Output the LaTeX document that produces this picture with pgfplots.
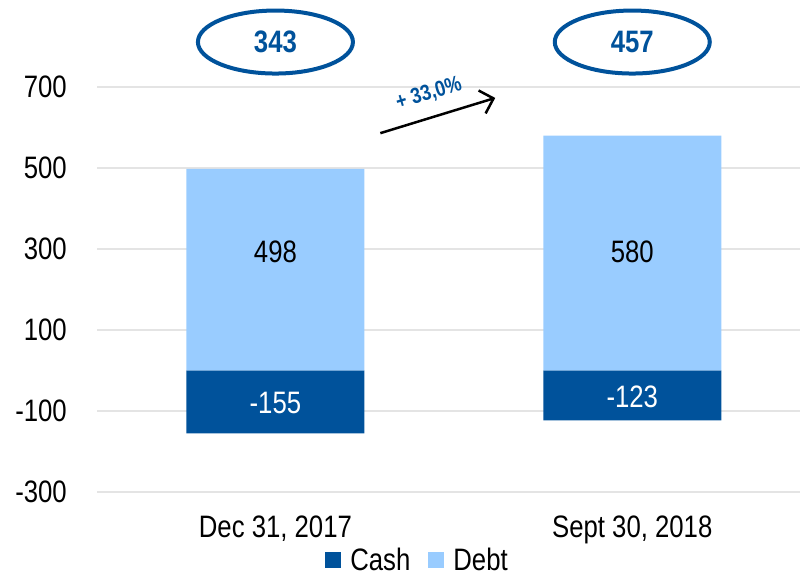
\documentclass[border=0pt]{standalone}
\usepackage{pgfplots}
\pgfplotsset{compat=1.18}
\usepackage{fontspec}
\setmainfont[FakeStretch=0.83]{Liberation Sans}
\usetikzlibrary{shapes.geometric,arrows.meta}
\definecolor{cashblue}{RGB}{0,82,155}
\definecolor{debtblue}{RGB}{153,204,255}
\definecolor{gridgray}{RGB}{228,228,228}
\begin{document}
\begin{tikzpicture}
\begin{axis}[
  scale only axis,
  width=703bp, height=486bp,
  xmin=-0.5, xmax=1.47,
  ymin=-300, ymax=900,
  clip=false,
  axis line style={draw=none},
  tick style={draw=none},
  xtick={0,1},
  xticklabels={{Dec 31, 2017},{Sept 30, 2018}},
  ytick={-300,-100,100,300,500,700},
  yticklabels={-300,-100,100,300,500,700},
  ymajorgrids,
  grid style={gridgray, line width=1.5bp},
  tick label style={font=\fontsize{31bp}{37bp}\selectfont},
  yticklabel style={inner sep=0pt, anchor=east, xshift=-30bp},
  xticklabel style={inner sep=0pt, anchor=north, yshift=-24bp},
  legend style={at={(0.456,0)}, anchor=center, yshift=-68bp, draw=none, fill=none,
    legend columns=2, font=\fontsize{31bp}{37bp}\selectfont,
    legend cell align=left,
    /tikz/every even column/.append style={column sep=16bp},
    /tikz/every odd column/.append style={column sep=7bp}},
  legend image code/.code={\fill[#1] (0bp,-8bp) rectangle (16bp,8bp);},
]
\addplot[ybar, bar width=178bp, bar shift=0pt, fill=cashblue, draw=none] coordinates {(0,-155) (1,-123)};
\addlegendentry{Cash}
\addplot[ybar, bar width=178bp, bar shift=0pt, fill=debtblue, draw=none] coordinates {(0,498) (1,580)};
\addlegendentry{Debt}
% value labels
\addplot[forget plot, draw=none, mark=none, nodes near coords, point meta=explicit symbolic,
  every node near coord/.style={anchor=center, text=black, font=\fontsize{31bp}{37bp}\selectfont}]
  coordinates {(0,292)[498] (1,292)[580]};
\addplot[forget plot, draw=none, mark=none, nodes near coords, point meta=explicit symbolic,
  every node near coord/.style={anchor=center, text=white, font=\fontsize{31bp}{37bp}\selectfont}]
  coordinates {(0,-80)[-155] (1,-64)[-123]};
% totals
\node[ellipse, draw=cashblue, line width=4bp, minimum width=155bp, minimum height=63bp,
  text=cashblue, font=\fontsize{31bp}{37bp}\selectfont\bfseries, inner sep=0pt] at (axis cs:0,811) {343};
\node[ellipse, draw=cashblue, line width=4bp, minimum width=155bp, minimum height=63bp,
  text=cashblue, font=\fontsize{31bp}{37bp}\selectfont\bfseries, inner sep=0pt] at (axis cs:1,811) {457};
\draw[black, line width=2.5bp, -{Straight Barb[length=12bp, width=24bp, line width=2.5bp]}]
  (axis cs:0.294,586) -- (axis cs:0.616,673);
\node[rotate=17, inner sep=0pt, text=cashblue, font=\fontsize{22bp}{26bp}\selectfont\bfseries] at (axis cs:0.43,683) {+ 33,0\%};
\end{axis}
\pgfresetboundingbox
\path[use as bounding box] (-97bp,-85bp) rectangle (705bp,492bp);
\end{tikzpicture}
\end{document}
